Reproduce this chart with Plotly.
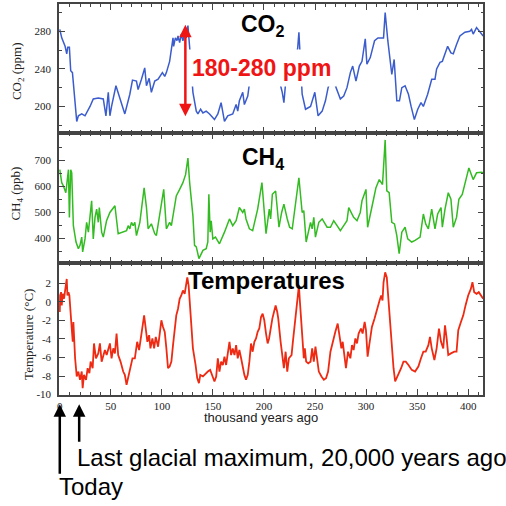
import plotly.graph_objects as go

# ---------------- data ----------------
co2_age = [0, 1.9, 5.2, 6.8, 7.8, 9.4, 10.7, 12.4, 16.6, 18.2, 21.5, 24.7, 29.6, 32.8, 37.7, 42.6,
           45.2, 47.5, 49.1, 50.7, 55.0, 58.9, 63.7, 68.6, 71.2, 75.1, 76.7, 80.0, 83.2, 84.9, 87.5,
           89.7, 93.0, 96.3, 97.9, 100.5, 102.8, 104.4, 107.6, 109.3, 110.9, 111.5, 113.2, 114.8,
           115.8, 117.4, 119.0, 120.6, 122.3, 123.9, 125.5, 127.2, 128.5, 129.5, 130.4, 133.7, 135.3,
           137.9, 140.2, 143.4, 146.7, 151.5, 154.8, 158.0, 161.3, 164.5, 169.4, 172.7, 174.3, 175.9,
           179.2, 180.8, 184.1, 185.7, 189, 193, 197, 201, 205, 209, 213, 216.3, 217.9, 219.5, 222,
           226, 230, 233, 234.2, 237.4, 240.7, 245.6, 249.8, 253.0, 257.0, 260.2, 262.8, 266.5, 271.6,
           274.8, 278.1, 281.3, 284.6, 286.9, 290.1, 293.4, 296.0, 299.2, 300.8, 304.1, 308.3, 311.6,
           317.1, 318.7, 321.3, 325.2, 327.5, 330.1, 332.7, 335.0, 338.2, 341.5, 344.1, 347.3, 350.6,
           353.8, 356.1, 360.3, 364.3, 367.5, 369.1, 372.4, 374.7, 377.3, 379.9, 383.1, 385.4, 388.6,
           391.9, 396.8, 401.6, 403.3, 404.9, 408.2, 411.4, 414.7]
co2_ppm = [282, 273, 264, 256, 263, 263, 238, 236, 184, 190, 192, 190, 200, 208, 209, 208,
           190, 215, 190, 200, 222, 208, 192, 213, 228, 227, 218, 229, 241, 222, 230,
           215, 227, 229, 232, 236, 232, 236, 248, 263, 273, 264, 273, 270,
           275, 268, 277, 270, 277, 273, 286, 263, 240, 222, 215, 195, 192,
           197, 193, 195, 192, 186, 192, 204, 184, 190, 192, 202, 195, 206,
           215, 202, 211, 224, 238, 250, 244, 255, 240, 250, 238, 222, 215, 204, 235,
           245, 240, 262, 279, 213, 197, 200, 215, 190, 195, 206, 220, 232, 218,
           208, 211, 220, 236, 243, 227, 243, 248, 272, 245, 252, 270, 273,
           273, 300, 270, 234, 250, 206, 206, 220, 222, 213, 200, 186, 197,
           204, 200, 213, 229, 229, 240, 247, 248, 256, 264, 257, 256, 266,
           275, 279, 280, 282, 277, 284, 279, 275]

ch4_age = [0, 1.9, 3.6, 5.9, 8.5, 9.4, 10.7, 11.7, 13.3, 15.9, 18.2, 19.8, 21.5, 22.4, 24.7, 26.3,
           28.0, 29.6, 31.2, 32.8, 34.5, 36.1, 37.7, 38.7, 41.0, 42.6, 45.8, 49.1, 51.7, 54.0, 57.2,
           62.1, 65.4, 67.0, 68.6, 70.2, 71.9, 73.5, 75.1, 78.4, 82.6, 84.9, 86.5, 89.7, 93.0, 94.6,
           97.9, 101.8, 104.4, 107.6, 109.3, 110.9, 112.5, 114.1, 117.4, 120.6, 123.2, 125.5, 127.2,
           130.4, 132.0, 133.7, 136.3, 140.2, 143.4, 145.0, 146.0, 147.3, 148.3, 149.9, 152.5, 156.4,
           161.3, 166.2, 169.4, 172.7, 175.9, 179.2, 180.8, 182.4, 185.7, 188.9, 193.8, 198.0, 202.0,
           205.2, 206.5, 208.2, 211.4, 214.7, 217.3, 219.5, 222.8, 225.1, 227.7, 230.9, 234.2, 237.4,
           239.0, 241.3, 245.6, 247.2, 248.8, 250.4, 253.7, 257.0, 261.8, 265.1, 268.3, 271.6, 274.8,
           278.1, 281.3, 283.0, 287.8, 291.1, 294.3, 296.0, 299.9, 301.5, 304.1, 307.3, 309.6, 312.9,
           316.1, 318.7, 320.3, 322.6, 325.2, 327.8, 330.1, 332.4, 335.0, 338.2, 340.8, 344.7, 348.0,
           352.9, 356.1, 358.4, 361.0, 364.3, 367.5, 370.1, 373.4, 374.7, 377.3, 380.5, 383.1, 385.4,
           388.6, 390.9, 394.2, 396.8, 400.7, 404.9, 408.2, 413.0, 414.7]
ch4_ppb = [664, 614, 601, 575, 664, 480, 664, 652, 448, 385, 359, 372, 404, 347, 397, 461,
           423, 499, 544, 397, 480, 512, 461, 518, 423, 404, 467, 499, 512, 525, 417,
           423, 429, 448, 436, 461, 448, 461, 410, 461, 594, 518, 436, 455, 417, 410,
           486, 588, 436, 461, 448, 486, 518, 563, 588, 614, 645, 709, 614,
           486, 372, 366, 321, 353, 359, 385, 569, 423, 467, 397, 404, 378,
           423, 474, 448, 467, 518, 499, 512, 474, 436, 429, 512, 614, 417,
           512, 474, 569, 582, 442, 499, 531, 474, 442, 436, 544, 633, 499,
           506, 385, 461, 436, 480, 404, 461, 474, 442, 442, 467, 448, 429,
           448, 467, 518, 480, 467, 499, 544, 588, 442, 486, 550, 594, 626,
           607, 779, 582, 575, 461, 455, 410, 340, 423, 442, 397, 385, 391,
           404, 493, 455, 436, 512, 436, 493, 518, 442, 512, 575, 550, 442,
           480, 550, 569, 614, 671, 626, 652, 654, 652]

temp_age = [0, 0.3, 1.3, 1.9, 2.9, 4.2, 5.2, 6.2, 6.8, 7.5, 8.5, 9.4, 10.7, 11.7, 12.7, 13.3, 15.0,
            16.6, 18.2, 19.8, 21.5, 22.4, 23.7, 25.7, 27.3, 29.0, 30.2, 32.2, 33.5, 35.4, 37.7, 39.3,
            41.0, 42.6, 44.2, 45.9, 47.5, 49.1, 50.7, 52.4, 54.0, 55.6, 57.2, 59.5, 62.1, 63.7, 65.4,
            67.0, 69.3, 71.2, 73.5, 75.8, 77.7, 80.0, 81.6, 82.6, 84.2, 85.8, 87.5, 88.8, 90.7, 92.4,
            94.0, 96.3, 97.9, 99.5, 101.1, 102.8, 104.4, 106.0, 107.6, 109.3, 110.9, 112.5, 114.1,
            115.8, 117.4, 119.0, 120.6, 122.3, 123.9, 124.9, 126.2, 127.2, 128.8, 130.4, 133.0, 134.6,
            136.3, 137.6, 140.2, 142.8, 145.0, 147.3, 149.3, 151.5, 153.2, 154.8, 156.4, 158.0, 159.7,
            161.3, 162.9, 164.5, 166.2, 167.8, 169.4, 171.1, 172.7, 174.3, 175.9, 177.6, 179.2, 180.8,
            182.4, 184.1, 185.7, 187.3, 188.9, 190.6, 192.2, 193.8, 195.4, 197.1, 198.7, 200.3, 202.0,
            203.6, 205.0, 206.5, 208.2, 209.8, 211.4, 213.0, 214.0, 216.3, 217.9, 219.5, 221.2, 222.8,
            224.4, 227.0, 228.3, 230.3, 231.6, 233.5, 234.2, 235.1, 236.8, 238.1, 239.0, 240.0, 241.3,
            243.3, 245.6, 247.2, 248.8, 250.4, 252.1, 253.7, 256.3, 258.6, 260.8, 262.8, 265.1, 267.3,
            269.9, 272.2, 273.8, 275.8, 277.1, 279.0, 280.3, 282.3, 284.6, 286.2, 287.8, 289.5, 291.1,
            292.7, 295.0, 296.6, 298.6, 299.9, 301.5, 303.1, 305.7, 308.3, 310.6, 313.2, 314.8, 316.1,
            317.1, 318.7, 320.3, 322.0, 323.6, 325.2, 326.9, 328.5, 330.1, 332.4, 334.3, 336.6, 338.9,
            341.5, 344.7, 348.0, 351.2, 353.8, 356.1, 358.4, 361.0, 362.6, 364.3, 366.9, 369.1, 371.4,
            373.4, 375.6, 377.3, 378.9, 380.5, 383.1, 386.4, 388.6, 390.3, 392.9, 395.2, 397.4, 400.0,
            402.6, 404.2, 405.9, 408.2, 410.4, 413.0, 414.7]
temp_c = [-1.10, 0.68, 1.04, -0.39, 0.86, 0.33, 1.22, 1.75, 2.46, 0.68, 1.04, 0.68, -2.17, -2.88, -4.31, -2.17, -6.09,
          -8.05, -7.52, -8.41, -7.52, -9.30, -7.88, -8.41, -7.16, -7.70, -6.45, -7.16, -4.49, -6.09, -5.56, -4.49,
          -6.45, -5.74, -5.20, -5.74, -5.20, -4.49, -6.09, -5.02, -5.56, -3.42, -5.74, -6.45, -7.52, -7.88, -8.94,
          -8.05, -6.81, -6.09, -6.09, -4.31, -5.20, -3.42, -2.17, -1.46, -2.88, -4.31, -3.60, -5.02, -3.95, -5.02,
          -3.78, -4.84, -3.42, -1.99, -2.71, -3.24, -5.02, -7.16, -6.98, -6.45, -4.67, -2.88, -1.46,
          -0.75, 0.33, 0.68, 1.22, 0.86, 2.11, 2.64, 1.75, 0.15, -2.88, -5.02, -6.81, -8.23,
          -8.77, -7.88, -8.05, -7.70, -7.52, -7.34, -8.05, -8.59, -8.05, -6.09, -7.52, -6.45, -6.81,
          -5.91, -6.81, -5.38, -4.31, -5.74, -5.02, -5.74, -4.67, -6.09, -5.20, -6.09, -7.16, -7.88,
          -8.41, -7.88, -6.45, -4.49, -5.38, -4.31, -3.95, -3.24, -2.88, -1.64, -1.28, -1.99, -3.42,
          -4.49, -3.95, -2.88, -1.81, -1.10, -0.39, -1.10, -1.81, -4.31, -6.09, -7.16, -5.38, -7.52,
          -6.09, -5.74, -4.31, -2.17, -1.10, 1.04, 1.75, 0.15, -2.88, -5.02, -6.09, -5.02, -6.45,
          -6.63, -6.45, -5.02, -6.45, -4.84, -6.45, -7.52, -8.05, -8.41, -8.23, -7.52, -5.38, -4.31,
          -3.24, -2.35, -3.78, -5.02, -4.31, -5.74, -7.16, -5.38, -6.09, -4.67, -5.20, -3.95, -4.49,
          -3.42, -2.88, -3.42, -2.17, -3.06, -5.91, -4.67, -2.71, -1.81, -0.75, 0.15, 0.68, 0.15,
          2.11, 3.18, 2.64, -0.03, -2.53, -5.02, -7.16, -8.59, -8.23, -7.70, -7.16, -6.45, -6.45,
          -6.81, -7.34, -7.52, -6.98, -6.09, -5.38, -5.38, -4.67, -3.78, -5.02, -6.27, -5.02, -2.88,
          -4.31, -5.02, -2.53, -3.95, -5.74, -5.56, -5.38, -5.38, -3.06, -2.17, -1.46, -0.39, 0.68,
          1.39, 2.11, 1.04, 0.86, 1.04, 0.68, 0.33]

x_ticks = [0, 50, 100, 150, 200, 250, 300, 350, 400]
co2_ticks = [200, 240, 280]
ch4_ticks = [400, 500, 600, 700]
temp_ticks = [-10, -8, -6, -4, -2, 0, 2]
temp_tick_text = ["-10", "-8", "-6", "-4", "-2", "0", "2"]
co2_span = [188, 287]          # red double arrow ends (ppm)
co2_span_age = 123             # thousand years ago
today_age = 0
lgm_age = 19

# ---------------- layout helpers ----------------
W = H = 506
def px(p):  # horizontal pixel -> paper
    return p / W
def py(p):  # vertical pixel (from top) -> paper
    return 1 - p / H

SERIF = "Liberation Serif, Times New Roman, serif"
SANS = "Liberation Sans, Arial, sans-serif"
FRAME = "#444444"

fig = go.Figure()
fig.add_trace(go.Scatter(x=co2_age, y=co2_ppm, mode="lines", line=dict(color="#3b5ccc", width=1.5),
                         xaxis="x", yaxis="y", showlegend=False))
fig.add_trace(go.Scatter(x=ch4_age, y=ch4_ppb, mode="lines", line=dict(color="#33bb22", width=1.5),
                         xaxis="x2", yaxis="y2", showlegend=False))
fig.add_trace(go.Scatter(x=temp_age, y=temp_c, mode="lines", line=dict(color="#ee2a12", width=1.8),
                         xaxis="x3", yaxis="y3", showlegend=False))

xdom = [px(57.3), px(483.3)]
xrange = [-0.7, 414.9]
common_x = dict(domain=xdom, range=xrange, showline=True, linecolor=FRAME, linewidth=1.5,
                mirror="allticks", ticks="inside", ticklen=6, tickcolor=FRAME, tickwidth=1,
                tickvals=x_ticks, showgrid=False, zeroline=False,
                minor=dict(ticks="inside", ticklen=3, dtick=10, tick0=0, tickcolor=FRAME, showgrid=False),
                tickfont=dict(family=SERIF, size=11, color="#222"))
common_y = dict(showline=True, linecolor=FRAME, linewidth=1.5, mirror="allticks", ticks="inside",
                ticklen=6, tickcolor=FRAME, tickwidth=1, showgrid=False, zeroline=False,
                tickfont=dict(family=SERIF, size=11, color="#222"), ticklabelstandoff=4)

fig.update_layout(
    width=W, height=H, margin=dict(l=0, r=0, t=0, b=0),
    paper_bgcolor="white", plot_bgcolor="white",
    xaxis=dict(common_x, anchor="y", showticklabels=False),
    xaxis2=dict(common_x, anchor="y2", showticklabels=False),
    xaxis3=dict(common_x, anchor="y3", showticklabels=True),
    yaxis=dict(common_y, anchor="x", domain=[py(134.5), py(4.5)], range=[171.8, 308.6],
               tickvals=co2_ticks, minor=dict(ticks="inside", ticklen=3, dtick=20, tick0=0, tickcolor=FRAME)),
    yaxis2=dict(common_y, anchor="x2", domain=[py(266), py(134.5)], range=[304.6, 806],
                tickvals=ch4_ticks, minor=dict(ticks="inside", ticklen=3, dtick=50, tick0=0, tickcolor=FRAME)),
    yaxis3=dict(common_y, anchor="x3", domain=[py(399.3), py(266)], range=[-10, 4.2],
                tickvals=temp_ticks, ticktext=temp_tick_text),
)

def label(text, xp, yp, size, family=SANS, color="black", angle=0, xanchor="center"):
    return dict(text=text, x=px(xp), y=py(yp), xref="paper", yref="paper", showarrow=False,
                xanchor=xanchor, yanchor="middle", textangle=angle,
                font=dict(family=family, size=size, color=color))

ann = []
# panel titles
ann.append(label("<b>CO<sub>2</sub></b>", 262, 26, 23))
ann.append(label("<b>CH<sub>4</sub></b>", 262, 160, 23))
ann.append(label("<b>Temperatures</b>", 266, 284, 24))
# y-axis titles
ann.append(label("CO<sub>2</sub> (ppm)", 15, 72, 13, SERIF, "#222", -90))
ann.append(label("CH<sub>4</sub> (ppb)", 15, 196, 13, SERIF, "#222", -90))
ann.append(label("Temperature (°C)", 27, 338, 13, SERIF, "#222", -90))
# x-axis title
ann.append(label("thousand years ago", 260, 422.5, 13, SANS, "#222"))
# red range label with white box
ann.append(dict(text="<b>180-280 ppm</b>", x=197.5, y=240.5, xref="x", yref="y", showarrow=False,
                xanchor="center", yanchor="middle",
                font=dict(family=SANS, size=23, color="#f01515"), bgcolor="white", borderpad=5))
# red double arrow
ann.append(dict(text="", x=co2_span_age, y=co2_span[1], ax=co2_span_age, ay=co2_span[0],
                xref="x", yref="y", axref="x", ayref="y", showarrow=True, arrowside="end+start",
                arrowhead=2, startarrowhead=2, arrowsize=1, startarrowsize=1, arrowwidth=2.5,
                arrowcolor="#f01515"))
# black arrows below x-axis
ann.append(dict(text="", x=today_age, y=py(409), xref="x3", yref="paper", ax=0, ay=71,
                showarrow=True, arrowhead=2, arrowsize=1, arrowwidth=2.5, arrowcolor="black"))
ann.append(dict(text="", x=lgm_age, y=py(409), xref="x3", yref="paper", ax=0, ay=39,
                showarrow=True, arrowhead=2, arrowsize=1, arrowwidth=2.5, arrowcolor="black"))
ann.append(label("Last glacial maximum, 20,000 years ago", 73, 463, 24, xanchor="left"))
ann.append(label("Today", 55, 492, 24, xanchor="left"))
fig.update_layout(annotations=ann)

fig.write_html("out.html")
